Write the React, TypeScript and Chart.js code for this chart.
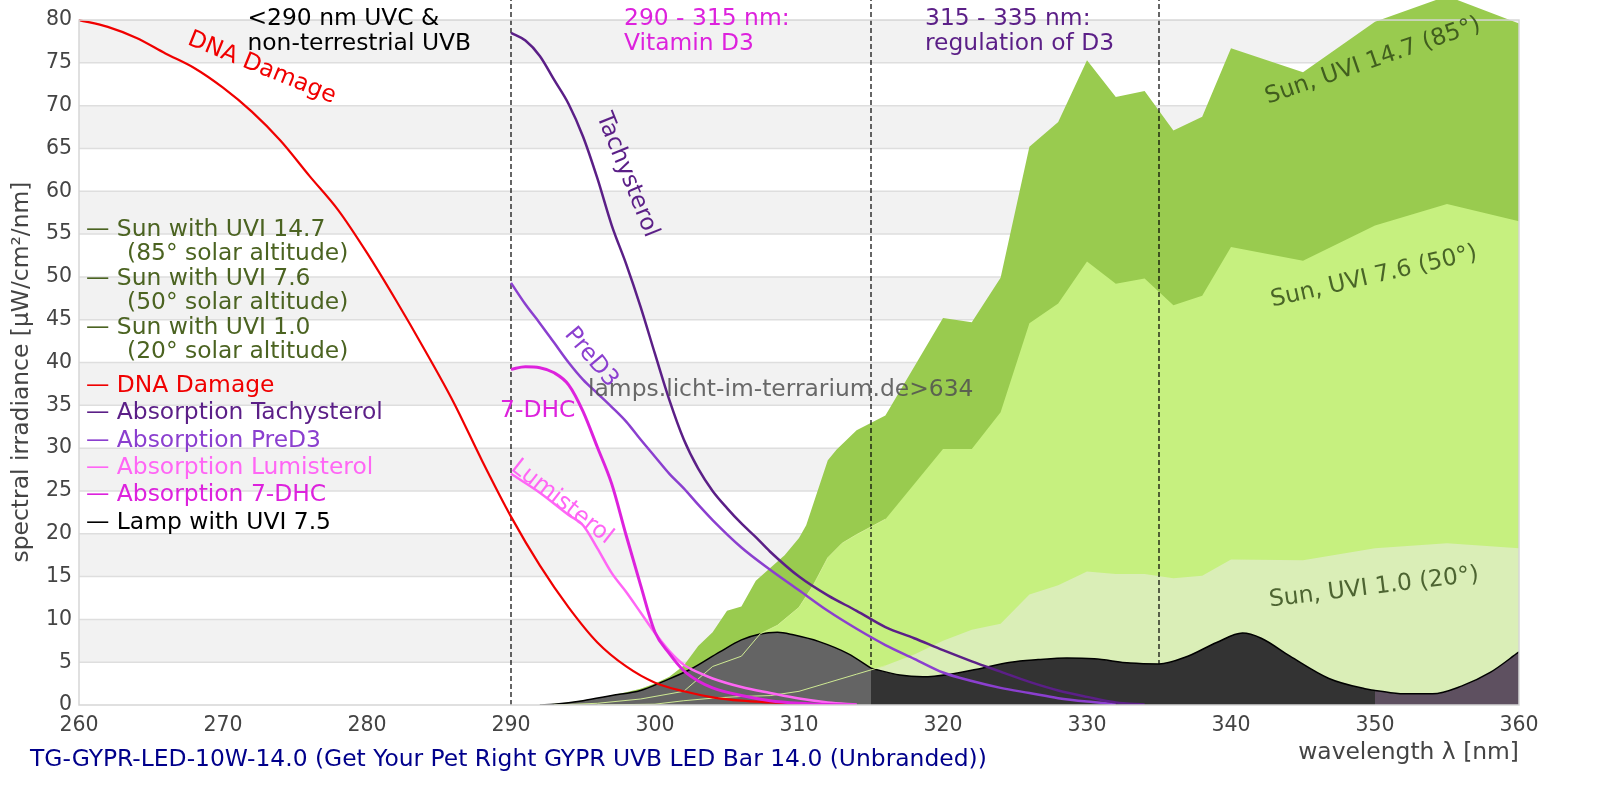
import { useEffect, useRef } from 'react';
import { Chart, registerables } from 'chart.js';

Chart.register(...registerables);

const FONT = '"DejaVu Sans", sans-serif';
const TEXT_PX = 23.4;
const TICK_PX = 20.5;
const Y_MAX = 82.34; // plot runs to the top of the canvas, the frame stops at 80

// sun spectra (filled areas)
const sunHighNm = [292, 294, 296, 298, 299, 300, 301, 302, 303, 304, 305, 306, 307, 308, 309, 310, 310.5, 312, 312.6, 314, 316, 320, 322, 324, 326, 328, 330, 332, 334, 336, 338, 340, 345, 350, 355, 360];
const sunHighVal = [0, 0.3, 0.8, 1.5, 1.9, 2.5, 3.3, 4.6, 6.9, 8.5, 11.0, 11.5, 14.5, 16.0, 17.5, 19.5, 21.0, 28.6, 29.8, 32.1, 33.8, 45.2, 44.7, 49.9, 65.2, 68.1, 75.3, 71.0, 71.7, 67.1, 68.7, 76.7, 73.9, 79.8, 82.8, 79.6];

const sunMidNm = [293, 296, 299, 302, 304, 306, 307.3, 308.5, 310, 311, 312, 313, 314, 316, 320, 322, 324, 326, 328, 330, 332, 334, 336, 338, 340, 345, 350, 355, 360];
const sunMidVal = [0, 0.2, 0.7, 1.6, 4.5, 5.7, 8.3, 9.3, 11.4, 14.0, 17.2, 18.9, 19.9, 21.7, 29.9, 29.9, 34.2, 44.6, 46.9, 51.8, 49.2, 49.8, 46.7, 47.8, 53.5, 51.9, 56.0, 58.5, 56.5];

const sunLowNm = [296, 300, 302, 304, 306, 308, 310, 312, 314, 316, 318, 320, 322, 324, 326, 328, 330, 332, 334, 336, 338, 340, 345, 350, 355, 360];
const sunLowVal = [0, 0.1, 0.5, 0.8, 1.0, 1.1, 1.6, 2.6, 3.6, 4.6, 5.9, 7.5, 8.8, 9.5, 12.9, 14.0, 15.6, 15.3, 15.3, 14.8, 15.1, 17.0, 16.9, 18.3, 18.9, 18.3];

// lamp spectrum, split at 315 and 350 nm
const lampUvbNm = [292, 293, 295, 297, 299, 300.5, 302.5, 304.5, 306, 307.3, 308.5, 309.6, 311.4, 313.4, 315];
const lampUvbVal = [0, 0.1, 0.5, 1.1, 1.7, 2.7, 4.2, 6.2, 7.6, 8.3, 8.5, 8.2, 7.4, 6.0, 4.3];
const lampUvaNm = [315, 317, 318.6, 320.5, 322.7, 324.7, 326.6, 328.6, 330.5, 333, 335, 337, 339, 340.8, 342.1, 344.1, 346.8, 349.3, 350];
const lampUvaVal = [4.3, 3.5, 3.3, 3.6, 4.3, 5.0, 5.3, 5.5, 5.4, 4.9, 4.8, 5.7, 7.3, 8.4, 7.8, 5.7, 3.1, 1.9, 1.7];
const lampLongNm = [350, 352, 354, 356, 358, 360];
const lampLongVal = [1.7, 1.3, 1.3, 2.2, 3.8, 6.2];

// action / absorption spectra (scaled)
const dnaNm = [260, 262, 264, 266, 268, 270, 272, 274, 276, 278, 280, 282, 284, 286, 288, 290, 292, 294, 296, 298, 300, 302, 304, 306, 308, 310, 312];
const dnaVal = [80.0, 79.2, 77.9, 76.1, 74.4, 72.1, 69.3, 65.9, 61.8, 57.8, 52.8, 47.3, 41.5, 35.4, 28.5, 22.0, 16.3, 11.4, 7.3, 4.5, 2.6, 1.6, 0.9, 0.5, 0.3, 0.15, 0.05];

const tachNm = [290, 291, 292, 293, 294, 295, 296, 297, 298, 299, 300, 301, 302, 303, 304, 305, 306, 307, 308, 310, 312, 314, 316, 318, 320, 322, 324, 326, 328, 330, 332, 334];
const tachVal = [78.5, 77.6, 75.8, 73.0, 70.2, 66.4, 61.5, 56.0, 51.5, 46.5, 41.0, 35.6, 31.0, 27.6, 25.0, 23.0, 21.2, 19.6, 17.9, 15.0, 12.8, 11.0, 9.1, 7.8, 6.4, 5.1, 3.9, 2.7, 1.7, 0.95, 0.3, 0.05];

const preNm = [290, 291, 292, 293, 294, 295, 296, 297, 298, 299, 300, 301, 302, 303, 304, 306, 308, 310, 312, 314, 316, 318, 320, 322, 324, 326, 328, 330, 332];
const preVal = [49.3, 46.8, 44.6, 42.3, 40.0, 38.0, 36.4, 34.8, 33.1, 31.0, 29.0, 27.0, 25.3, 23.4, 21.6, 18.4, 15.8, 13.4, 11.0, 8.9, 7.0, 5.4, 3.8, 2.8, 2.0, 1.4, 0.8, 0.4, 0.1];

const lumiNm = [290, 292, 294, 295, 296, 297, 298, 299, 300, 301, 302, 303, 304, 306, 308, 310, 312, 314];
const lumiVal = [27.0, 24.8, 22.2, 21.0, 18.3, 15.4, 13.2, 10.8, 8.4, 6.3, 4.7, 3.8, 3.1, 2.1, 1.4, 0.75, 0.3, 0.05];

const dhcNm = [290, 291, 292, 293, 294, 295, 296, 297, 298, 299, 300, 301, 302, 303, 304, 306, 308, 310, 312, 314];
const dhcVal = [39.2, 39.5, 39.4, 38.8, 37.4, 34.3, 30.1, 25.8, 19.8, 14.0, 8.5, 6.0, 4.0, 2.8, 2.0, 1.1, 0.5, 0.2, 0.05, 0];

const regionBounds = [290, 315, 335];
const EDGE_END = 316; // sun edges are only drawn over the lamp in the UVB part

const C_SUN_TEXT = '#4b6321';
const C_DNA = '#f00000';
const C_TACH = '#5b1f87';
const C_PRE = '#8b3fcf';
const C_LUMI = '#ff66f5';
const C_DHC = '#dd22dd';

const legendRows = [
  '— Sun with UVI 14.7', '(85° solar altitude)',
  '— Sun with UVI 7.6', '(50° solar altitude)',
  '— Sun with UVI 1.0', '(20° solar altitude)',
  '— DNA Damage', '— Absorption Tachysterol', '— Absorption PreD3',
  '— Absorption Lumisterol', '— Absorption 7-DHC', '— Lamp with UVI 7.5',
];
const legendColors = [C_SUN_TEXT, C_SUN_TEXT, C_SUN_TEXT, C_SUN_TEXT, C_SUN_TEXT, C_SUN_TEXT, C_DNA, C_TACH, C_PRE, C_LUMI, C_DHC, '#000000'];
const legendY = [229.8, 254.3, 278.8, 303.2, 327.6, 352.1, 385.7, 413.4, 440.8, 467.8, 494.9, 522.6];

const regionHeads = [
  { lines: ['<290 nm UVC &', 'non-terrestrial UVB'], nm: 271.7, color: '#000000' },
  { lines: ['290 - 315 nm:', 'Vitamin D3'], nm: 297.85, color: C_DHC },
  { lines: ['315 - 335 nm:', 'regulation of D3'], nm: 318.75, color: C_TACH },
];

const curveLabels = [
  { text: 'DNA Damage', nm: 272.7, v: 74.4, angle: 22, color: C_DNA, align: 'center' },
  { text: 'Tachysterol', nm: 298.06, v: 61.9, angle: 68, color: C_TACH, align: 'center' },
  { text: 'PreD3', nm: 295.56, v: 40.6, angle: 50, color: C_PRE, align: 'center' },
  { text: '7-DHC', nm: 289.24, v: 34.3, angle: 0, color: C_DHC, align: 'left' },
  { text: 'Lumisterol', nm: 293.54, v: 23.7, angle: 38, color: C_LUMI, align: 'center' },
  { text: 'lamps.licht-im-terrarium.de>634', nm: 295.35, v: 36.8, angle: 0, color: 'rgba(80,80,80,0.85)', align: 'left' },
  { text: 'Sun, UVI 14.7 (85°)', nm: 349.86, v: 75.2, angle: -19, color: 'rgba(45,70,20,0.82)', align: 'center' },
  { text: 'Sun, UVI 7.6 (50°)', nm: 349.93, v: 50.0, angle: -13, color: 'rgba(45,70,20,0.82)', align: 'center' },
  { text: 'Sun, UVI 1.0 (20°)', nm: 349.93, v: 13.7, angle: -7, color: 'rgba(45,70,20,0.82)', align: 'center' },
];

const pts = (xs: number[], ys: number[]) => xs.map((x, i) => ({ x, y: ys[i] }));

function putText(ctx: CanvasRenderingContext2D, text: string, px: number, py: number, color: string, angle = 0, align: CanvasTextAlign = 'left', size = TEXT_PX) {
  ctx.save();
  ctx.translate(px, py);
  ctx.rotate((angle * Math.PI) / 180);
  ctx.font = `${size}px ${FONT}`;
  ctx.fillStyle = color;
  ctx.textAlign = align;
  ctx.textBaseline = 'middle';
  ctx.fillText(text, 0, 0);
  ctx.restore();
}

const bandsPlugin = {
  id: 'bands',
  beforeDatasetsDraw(chart: any) {
    const { ctx, chartArea: a, scales: { y } } = chart;
    ctx.save();
    ctx.fillStyle = '#f2f2f2';
    for (let v = 5; v < 80; v += 10) {
      const top = y.getPixelForValue(v + 5);
      ctx.fillRect(a.left, top, a.right - a.left, y.getPixelForValue(v) - top);
    }
    ctx.strokeStyle = '#dedede';
    ctx.lineWidth = 1.5;
    for (let v = 5; v < 80; v += 5) {
      const py = y.getPixelForValue(v);
      ctx.beginPath();
      ctx.moveTo(a.left, py);
      ctx.lineTo(a.right, py);
      ctx.stroke();
    }
    ctx.restore();
  },
  afterDatasetsDraw(chart: any) {
    const { ctx, chartArea: a, scales: { y } } = chart;
    const top = y.getPixelForValue(80);
    ctx.save();
    ctx.strokeStyle = '#d6d6d6';
    ctx.lineWidth = 1.5;
    ctx.strokeRect(a.left, top, a.right - a.left, y.getPixelForValue(0) - top);
    ctx.restore();
  },
};

const textPlugin = {
  id: 'texts',
  afterDraw(chart: any) {
    const { ctx, chartArea: a, scales: { x, y } } = chart;
    regionHeads.forEach((h) => {
      putText(ctx, h.lines[0], x.getPixelForValue(h.nm), y.getPixelForValue(80.1), h.color);
      putText(ctx, h.lines[1], x.getPixelForValue(h.nm), y.getPixelForValue(77.2), h.color);
    });
    curveLabels.forEach((l) => {
      putText(ctx, l.text, x.getPixelForValue(l.nm), y.getPixelForValue(l.v), l.color, l.angle, l.align as CanvasTextAlign);
    });
    legendRows.forEach((t, i) => {
      const indent = t.startsWith('(') ? 127 : 86;
      putText(ctx, t, indent, legendY[i], legendColors[i]);
    });
    putText(ctx, 'spectral irradiance [µW/cm²/nm]', 22, 372, '#444444', -90, 'center');
    putText(ctx, 'wavelength λ [nm]', a.right, 753, '#444444', 0, 'right');
    putText(ctx, 'TG-GYPR-LED-10W-14.0 (Get Your Pet Right GYPR UVB LED Bar 14.0 (Unbranded))', 30, 760, '#00008b');
  },
};

export default function App() {
  const canvasRef = useRef<HTMLCanvasElement>(null);

  useEffect(() => {
    document.body.style.margin = '0';
    if (!canvasRef.current) return;

    const area = (label: string, xs: number[], ys: number[], color: string, order: number) => ({
      label, data: pts(xs, ys), backgroundColor: color, borderWidth: 0, fill: 'origin', tension: 0, pointRadius: 0, order,
    });
    const lamp = (label: string, xs: number[], ys: number[], color: string) => ({
      label, data: pts(xs, ys), backgroundColor: color, borderColor: '#000000', borderWidth: 1.5,
      fill: 'origin', cubicInterpolationMode: 'monotone', pointRadius: 0, order: 6,
    });
    const curve = (label: string, xs: number[], ys: number[], color: string, width: number, order: number) => ({
      label, data: pts(xs, ys), borderColor: color, borderWidth: width, fill: false,
      cubicInterpolationMode: 'monotone', pointRadius: 0, order,
    });
    // thin sun edges seen through the lamp in the UVB part
    const edge = (label: string, xs: number[], ys: number[]) => ({
      label, data: pts(xs, ys).filter((p) => p.x <= EDGE_END), borderColor: 'rgba(212,240,150,0.95)',
      borderWidth: 1, fill: false, tension: 0, pointRadius: 0, order: 5,
    });

    const chart = new Chart(canvasRef.current, {
      type: 'line',
      data: {
        datasets: [
          area('Sun UVI 14.7', sunHighNm, sunHighVal, '#99cb4f', 10),
          area('Sun UVI 7.6', sunMidNm, sunMidVal, '#c6f07f', 9),
          area('Sun UVI 1.0', sunLowNm, sunLowVal, '#daeeb7', 8),
          ...regionBounds.map((b) => ({
            label: `bound ${b}`, data: [{ x: b, y: 0 }, { x: b, y: Y_MAX }],
            borderColor: '#000000', borderWidth: 1.2, borderDash: [5, 3], fill: false, pointRadius: 0, order: 7,
          })),
          lamp('Lamp UVB', lampUvbNm, lampUvbVal, '#646464'),
          lamp('Lamp UVA', lampUvaNm, lampUvaVal, '#333333'),
          lamp('Lamp UVA long', lampLongNm, lampLongVal, '#5e5060'),
          edge('Sun UVI 7.6 edge', sunMidNm, sunMidVal),
          edge('Sun UVI 1.0 edge', sunLowNm, sunLowVal),
          curve('DNA Damage', dnaNm, dnaVal, C_DNA, 2.2, 4),
          curve('Tachysterol', tachNm, tachVal, C_TACH, 2.5, 3),
          curve('PreD3', preNm, preVal, C_PRE, 2.5, 3),
          curve('Lumisterol', lumiNm, lumiVal, C_LUMI, 2.5, 2),
          curve('7-DHC', dhcNm, dhcVal, C_DHC, 3, 1),
        ],
      },
      options: {
        responsive: false,
        animation: false,
        layout: { padding: { left: 0, right: 81, top: 0, bottom: 0 } },
        plugins: { legend: { display: false }, tooltip: { enabled: false } },
        scales: {
          x: {
            type: 'linear',
            min: 260,
            max: 360,
            grid: { display: false, drawTicks: false },
            border: { display: false },
            ticks: { stepSize: 10, color: '#444444', font: { family: FONT, size: TICK_PX }, padding: 8, maxRotation: 0 },
            afterFit: (s: any) => { s.height = 95; s.paddingLeft = 0; s.paddingRight = 0; },
          },
          y: {
            min: 0,
            max: Y_MAX,
            grid: { display: false, drawTicks: false },
            border: { display: false },
            ticks: { stepSize: 5, includeBounds: false, color: '#444444', font: { family: FONT, size: TICK_PX }, padding: 7 },
            afterFit: (s: any) => { s.width = 79; s.paddingTop = 0; s.paddingBottom = 0; },
          },
        },
      },
      plugins: [bandsPlugin, textPlugin],
    } as any);

    return () => chart.destroy();
  }, []);

  return (
    <div style={{ width: 1600, height: 800, background: '#ffffff' }}>
      <canvas ref={canvasRef} width={1600} height={800} style={{ display: 'block' }} />
    </div>
  );
}
